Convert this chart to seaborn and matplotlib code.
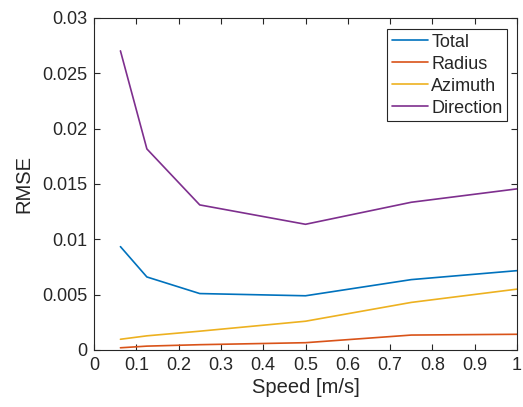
import matplotlib
matplotlib.use("Agg")
import matplotlib.pyplot as plt
import seaborn as sns
import pandas as pd

speed = [0.0625, 0.125, 0.25, 0.5, 0.75, 1.0]
total = [0.00934, 0.0066, 0.0051, 0.0049, 0.00636, 0.00717]
radius = [0.0002, 0.00035, 0.00048, 0.00066, 0.00135, 0.00142]
azimuth = [0.00097, 0.00128, 0.0017, 0.0026, 0.0043, 0.0055]
direction = [0.02703, 0.01817, 0.01311, 0.01136, 0.01335, 0.01456]
series = ["Total", "Radius", "Azimuth", "Direction"]
colors = ["#0072BD", "#D95319", "#EDB120", "#7E2F8E"]

df = pd.concat([
    pd.DataFrame({"speed": speed, "rmse": vals, "series": name})
    for name, vals in zip(series, [total, radius, azimuth, direction])
])

sns.set_style("white")
plt.rcParams['font.family'] = ['Liberation Sans', 'DejaVu Sans']

fig = plt.figure(figsize=(5.23, 4.07), dpi=100)
ax = fig.add_axes([94/523, 1 - 350/407, (517-94)/523, (350-18)/407])
sns.lineplot(data=df, x="speed", y="rmse", hue="series", palette=colors,
             hue_order=series, ax=ax, linewidth=1.2, legend=True)

ax.set_xlim(0, 1)
ax.set_ylim(0, 0.03)
ax.set_xticks([i/10 for i in range(11)])
ax.set_xticklabels(["0", "0.1", "0.2", "0.3", "0.4", "0.5", "0.6", "0.7", "0.8", "0.9", "1"])
ax.set_yticks([0, 0.005, 0.01, 0.015, 0.02, 0.025, 0.03])
ax.set_yticklabels(["0", "0.005", "0.01", "0.015", "0.02", "0.025", "0.03"])
ax.set_xlabel("Speed [m/s]", fontsize=14.5, color="#262626", labelpad=3)
ax.set_ylabel("RMSE", fontsize=14.5, color="#262626", labelpad=6)
ax.tick_params(direction="in", length=4, width=0.8, colors="#262626",
               labelsize=13, top=True, right=True, bottom=True, left=True, pad=5)
for s in ax.spines.values():
    s.set_color("#262626")
    s.set_linewidth(0.8)

leg = ax.legend(loc="upper right", fontsize=13, frameon=True, fancybox=False,
                edgecolor="#262626", framealpha=1,
                bbox_to_anchor=((507 - 94) / 423, (350 - 29) / 332),
                bbox_transform=ax.transAxes, borderaxespad=0,
                handlelength=2.0, labelspacing=0.28, borderpad=0.25, handletextpad=0.2)
leg.get_frame().set_linewidth(0.8)
for line in leg.get_lines():
    line.set_linewidth(1.2)

fig.savefig("out.png", dpi=100)
